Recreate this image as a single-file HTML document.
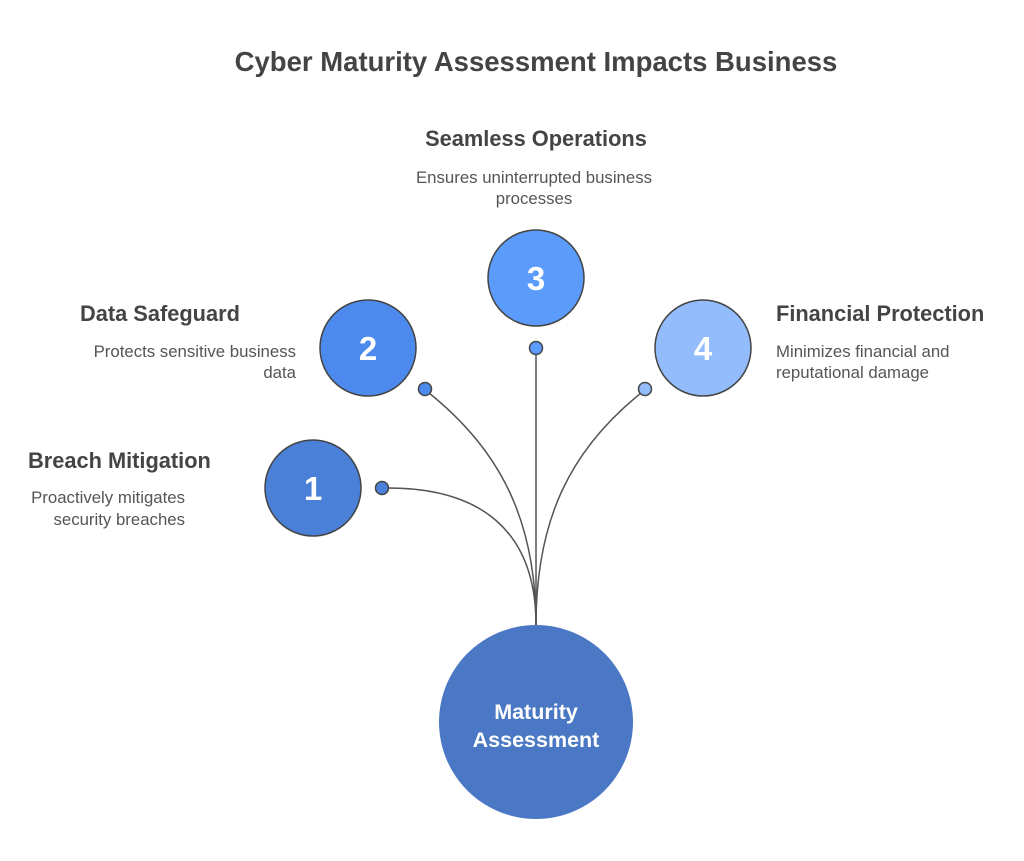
<!DOCTYPE html>
<html><head><meta charset="utf-8"><style>
body{margin:0;background:#fff;}
svg text{font-family:"Liberation Sans",sans-serif;}
</style></head><body>
<svg width="1024" height="856" viewBox="0 0 1024 856" xmlns="http://www.w3.org/2000/svg">
<rect width="1024" height="856" fill="#fff"/>
<text x="536" y="71" text-anchor="middle" font-size="27.5" font-weight="bold" fill="#444">Cyber Maturity Assessment Impacts Business</text>
<g fill="none" stroke="#555" stroke-width="1.5">
<path d="M388,488 C480,488 536,530 536,625"/>
<path d="M429,393 C500,450 536,520 536,625"/>
<path d="M536,354 L536,625"/>
<path d="M641,393 C570,450 536,520 536,625"/>
</g>
<g stroke="#444" stroke-width="1.5">
<circle cx="313" cy="488" r="48" fill="#4a80d8"/>
<circle cx="368" cy="348" r="48" fill="#4d8aee"/>
<circle cx="536" cy="278" r="48" fill="#5b9bfb"/>
<circle cx="703" cy="348" r="48" fill="#93bcfd"/>
<circle cx="382" cy="488" r="6.5" fill="#4a80d8"/>
<circle cx="425" cy="389" r="6.5" fill="#4d8aee"/>
<circle cx="536" cy="348" r="6.5" fill="#5b9bfb"/>
<circle cx="645" cy="389" r="6.5" fill="#93bcfd"/>
</g>
<circle cx="536" cy="722" r="97" fill="#4a78c4"/>
<g fill="#fff" font-weight="bold" font-size="33" text-anchor="middle">
<text x="313" y="500">1</text>
<text x="368" y="360">2</text>
<text x="536" y="290">3</text>
<text x="703" y="360">4</text>
</g>
<g fill="#fff" font-weight="bold" font-size="21.5" text-anchor="middle">
<text x="536" y="719">Maturity</text>
<text x="536" y="747">Assessment</text>
</g>
<g fill="#444" font-weight="bold" font-size="21.8">
<text x="536" y="146" text-anchor="middle">Seamless Operations</text>
<text x="80" y="321">Data Safeguard</text>
<text x="776" y="321">Financial Protection</text>
<text x="28" y="468">Breach Mitigation</text>
</g>
<g fill="#555" font-size="16.8">
<text x="534" y="183" text-anchor="middle">Ensures uninterrupted business</text>
<text x="534" y="204" text-anchor="middle">processes</text>
<text x="296" y="357" text-anchor="end">Protects sensitive business</text>
<text x="296" y="378" text-anchor="end">data</text>
<text x="776" y="357">Minimizes financial and</text>
<text x="776" y="378">reputational damage</text>
<text x="185" y="503" text-anchor="end">Proactively mitigates</text>
<text x="185" y="525" text-anchor="end">security breaches</text>
</g>
</svg>
</body></html>
